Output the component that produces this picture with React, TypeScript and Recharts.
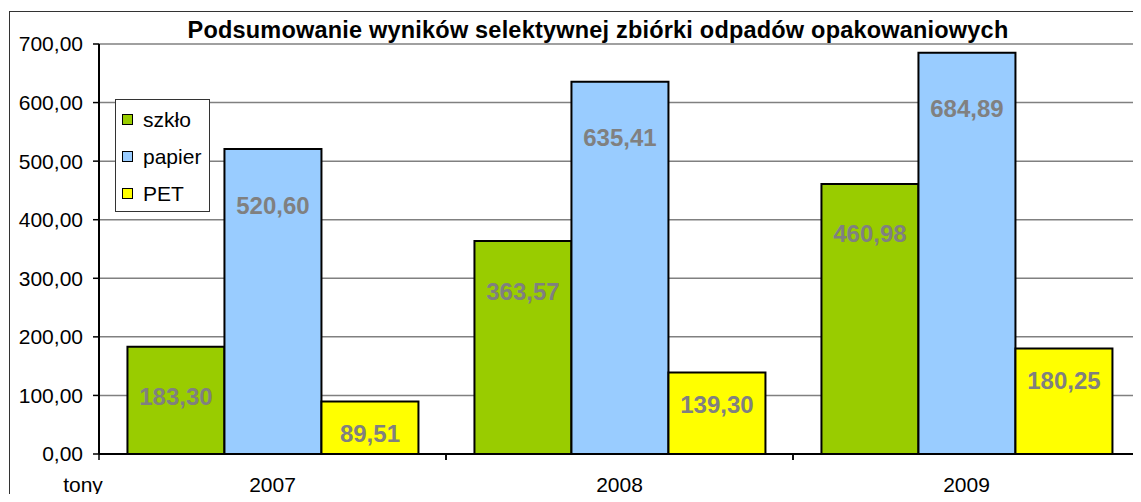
import React from 'react';
import { Bar, BarChart, CartesianGrid, Label, LabelList, Legend, XAxis, YAxis } from 'recharts';

// tonnes collected per year
const years = ['2007', '2008', '2009'];
const szklo = [183.3, 363.57, 460.98];
const papier = [520.6, 635.41, 684.89];
const pet = [89.51, 139.3, 180.25];
const yTicks = [0, 100, 200, 300, 400, 500, 600, 700];

const FONT = '"Liberation Sans", Arial, sans-serif';

const series = [
  { key: 'szklo', name: 'szkło', color: '#99cc00', labelDy: 50 },
  { key: 'papier', name: 'papier', color: '#99ccff', labelDy: 56 },
  { key: 'pet', name: 'PET', color: '#ffff00', labelDy: 32 },
];

const data = years.map((year, i) => ({
  year,
  szklo: szklo[i],
  papier: papier[i],
  pet: pet[i],
}));

const fmt = (v: number) => v.toFixed(2).replace('.', ',');

function YearTick(props: any) {
  const { x, y, payload } = props;
  const half = payload?.offset ?? 0;
  return (
    <g>
      <line x1={x - half} x2={x - half} y1={y} y2={y + 6} stroke="#000" strokeWidth={1.5} />
      <line x1={x + half} x2={x + half} y1={y} y2={y + 6} stroke="#000" strokeWidth={1.5} />
      <text x={x} y={y + 38} textAnchor="middle" fontSize={21} fontFamily={FONT} fill="#000">
        {payload.value}
      </text>
    </g>
  );
}

function makeValueLabel(dy: number) {
  return (props: any) => {
    const { x, y, width, value } = props;
    return (
      <text
        x={Number(x) + Number(width) / 2}
        y={Number(y) + dy}
        textAnchor="middle"
        dominantBaseline="central"
        fontSize={24}
        fontWeight="bold"
        fontFamily={FONT}
        fill="#808080"
      >
        {fmt(Number(value))}
      </text>
    );
  };
}

function LegendBox() {
  return (
    <div
      style={{
        width: 95,
        height: 113,
        boxSizing: 'border-box',
        border: '1.5px solid #333',
        background: '#fff',
        paddingTop: 1,
        fontFamily: FONT,
        fontSize: 21,
        color: '#000',
      }}
    >
      {series.map((s) => (
        <div key={s.key} style={{ display: 'flex', alignItems: 'center', height: 37, paddingLeft: 6 }}>
          <span
            style={{
              display: 'inline-block',
              width: 9,
              height: 9,
              background: s.color,
              border: '1.5px solid #000',
              marginRight: 10,
            }}
          />
          {s.name}
        </div>
      ))}
    </div>
  );
}

export default function App() {
  return (
    <div style={{ position: 'relative', width: 1141, height: 502, margin: -8, overflow: 'hidden', background: '#fff' }}>
      <BarChart
        width={1141}
        height={502}
        data={data}
        margin={{ top: 44, right: 1, left: 0, bottom: 0 }}
        barCategoryGap="8.2%"
        barGap={0}
      >
        <CartesianGrid
          stroke="#808080"
          strokeWidth={1.5}
          horizontal
          vertical
          verticalCoordinatesGenerator={({ offset }: any) => [offset.left + offset.width]}
        />
        <XAxis
          dataKey="year"
          height={48}
          axisLine={{ stroke: '#000', strokeWidth: 2 }}
          tickLine={false}
          tickSize={0}
          tickMargin={0}
          tick={<YearTick />}
          interval={0}
        >
          <Label
            content={(p: any) => {
              const vb = p.viewBox || {};
              return (
                <text x={vb.x - 16} y={vb.y + 38} textAnchor="middle" fontSize={21} fontFamily={FONT} fill="#000">
                  tony
                </text>
              );
            }}
          />
        </XAxis>
        <YAxis
          width={99}
          domain={[0, 700]}
          ticks={yTicks}
          tickFormatter={fmt}
          axisLine={{ stroke: '#000', strokeWidth: 2 }}
          tickLine={{ stroke: '#000', strokeWidth: 1.5 }}
          tickSize={6}
          tickMargin={10}
          tick={{ fontSize: 21, fontFamily: FONT, fill: '#000' }}
          interval={0}
        />
        <Legend
          layout="vertical"
          align="center"
          verticalAlign="middle"
          content={<LegendBox />}
          wrapperStyle={{ left: 115, top: 99, width: 95, height: 113 }}
        />
        {series.map((s) => (
          <Bar
            key={s.key}
            dataKey={s.key}
            name={s.name}
            fill={s.color}
            stroke="#000"
            strokeWidth={2}
            isAnimationActive={false}
          >
            <LabelList dataKey={s.key} content={makeValueLabel(s.labelDy)} />
          </Bar>
        ))}
      </BarChart>
      <div
        style={{
          position: 'absolute',
          left: 0,
          width: 1196,
          top: 19,
          textAlign: 'center',
          fontFamily: FONT,
          fontWeight: 'bold',
          fontSize: 23.5,
          letterSpacing: 0.2,
          lineHeight: 1,
          color: '#000',
          whiteSpace: 'nowrap',
          pointerEvents: 'none',
        }}
      >
        Podsumowanie wyników selektywnej zbiórki odpadów opakowaniowych
      </div>
      <div
        style={{
          position: 'absolute',
          left: 9,
          top: 11,
          width: 1200,
          height: 600,
          border: '1.5px solid #333',
          pointerEvents: 'none',
        }}
      />
    </div>
  );
}
